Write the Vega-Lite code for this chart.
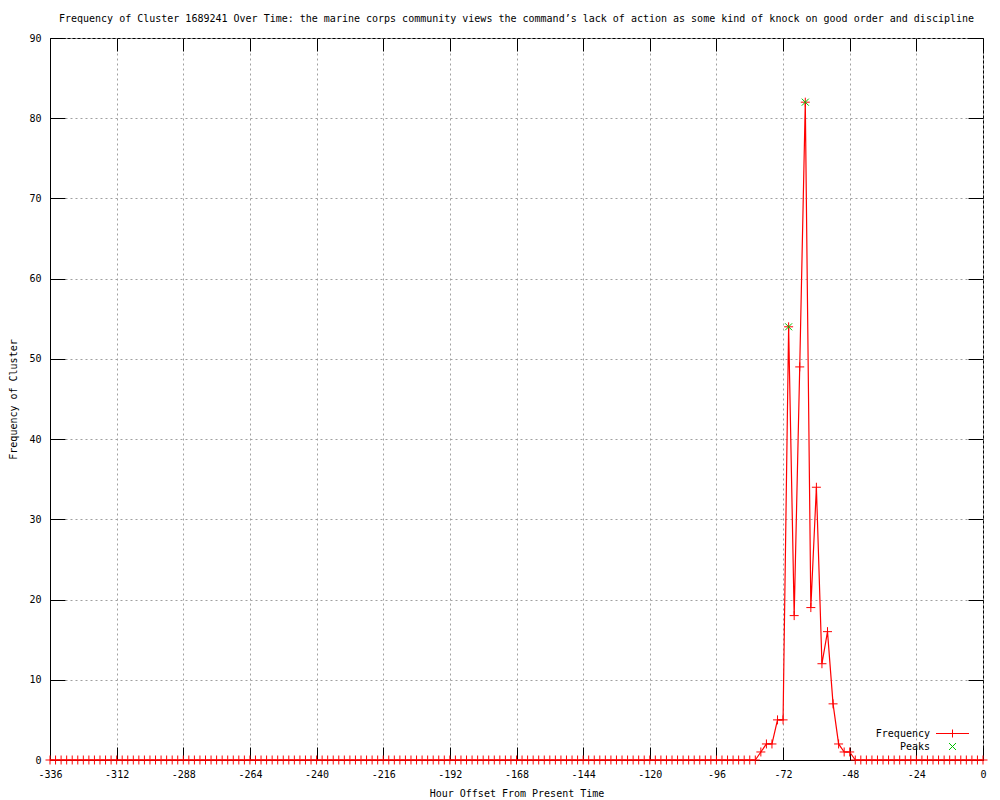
{
  "$schema": "https://vega.github.io/schema/vega-lite/v6.json",
  "width": 933,
  "height": 722,
  "autosize": {"type": "none"},
  "padding": {"left": 50, "top": 38, "right": 17, "bottom": 40},
  "background": "white",
  "title": {
    "text": "Frequency of Cluster 1689241 Over Time: the marine corps community views the command’s lack of action as some kind of knock on good order and discipline",
    "font": "DejaVu Sans Mono",
    "fontSize": 10,
    "fontWeight": "normal",
    "color": "black",
    "anchor": "middle",
    "offset": 9
  },
  "config": {
    "view": {"stroke": "black", "strokeWidth": 1},
    "font": "DejaVu Sans Mono",
    "axis": {
      "labelFont": "DejaVu Sans Mono",
      "labelFontSize": 10,
      "labelColor": "black",
      "titleFont": "DejaVu Sans Mono",
      "titleFontSize": 10,
      "titleFontWeight": "normal",
      "titleColor": "black",
      "domainColor": "black",
      "tickColor": "black",
      "gridColor": "#a0a0a0",
      "gridDash": [2, 3],
      "gridWidth": 1,
      "gridOpacity": 1
    }
  },
  "datasets": {
    "freq": [
      {"hour": -336, "freq": 0, "series": "Frequency"},
      {"hour": -334, "freq": 0, "series": "Frequency"},
      {"hour": -332, "freq": 0, "series": "Frequency"},
      {"hour": -330, "freq": 0, "series": "Frequency"},
      {"hour": -328, "freq": 0, "series": "Frequency"},
      {"hour": -326, "freq": 0, "series": "Frequency"},
      {"hour": -324, "freq": 0, "series": "Frequency"},
      {"hour": -322, "freq": 0, "series": "Frequency"},
      {"hour": -320, "freq": 0, "series": "Frequency"},
      {"hour": -318, "freq": 0, "series": "Frequency"},
      {"hour": -316, "freq": 0, "series": "Frequency"},
      {"hour": -314, "freq": 0, "series": "Frequency"},
      {"hour": -312, "freq": 0, "series": "Frequency"},
      {"hour": -310, "freq": 0, "series": "Frequency"},
      {"hour": -308, "freq": 0, "series": "Frequency"},
      {"hour": -306, "freq": 0, "series": "Frequency"},
      {"hour": -304, "freq": 0, "series": "Frequency"},
      {"hour": -302, "freq": 0, "series": "Frequency"},
      {"hour": -300, "freq": 0, "series": "Frequency"},
      {"hour": -298, "freq": 0, "series": "Frequency"},
      {"hour": -296, "freq": 0, "series": "Frequency"},
      {"hour": -294, "freq": 0, "series": "Frequency"},
      {"hour": -292, "freq": 0, "series": "Frequency"},
      {"hour": -290, "freq": 0, "series": "Frequency"},
      {"hour": -288, "freq": 0, "series": "Frequency"},
      {"hour": -286, "freq": 0, "series": "Frequency"},
      {"hour": -284, "freq": 0, "series": "Frequency"},
      {"hour": -282, "freq": 0, "series": "Frequency"},
      {"hour": -280, "freq": 0, "series": "Frequency"},
      {"hour": -278, "freq": 0, "series": "Frequency"},
      {"hour": -276, "freq": 0, "series": "Frequency"},
      {"hour": -274, "freq": 0, "series": "Frequency"},
      {"hour": -272, "freq": 0, "series": "Frequency"},
      {"hour": -270, "freq": 0, "series": "Frequency"},
      {"hour": -268, "freq": 0, "series": "Frequency"},
      {"hour": -266, "freq": 0, "series": "Frequency"},
      {"hour": -264, "freq": 0, "series": "Frequency"},
      {"hour": -262, "freq": 0, "series": "Frequency"},
      {"hour": -260, "freq": 0, "series": "Frequency"},
      {"hour": -258, "freq": 0, "series": "Frequency"},
      {"hour": -256, "freq": 0, "series": "Frequency"},
      {"hour": -254, "freq": 0, "series": "Frequency"},
      {"hour": -252, "freq": 0, "series": "Frequency"},
      {"hour": -250, "freq": 0, "series": "Frequency"},
      {"hour": -248, "freq": 0, "series": "Frequency"},
      {"hour": -246, "freq": 0, "series": "Frequency"},
      {"hour": -244, "freq": 0, "series": "Frequency"},
      {"hour": -242, "freq": 0, "series": "Frequency"},
      {"hour": -240, "freq": 0, "series": "Frequency"},
      {"hour": -238, "freq": 0, "series": "Frequency"},
      {"hour": -236, "freq": 0, "series": "Frequency"},
      {"hour": -234, "freq": 0, "series": "Frequency"},
      {"hour": -232, "freq": 0, "series": "Frequency"},
      {"hour": -230, "freq": 0, "series": "Frequency"},
      {"hour": -228, "freq": 0, "series": "Frequency"},
      {"hour": -226, "freq": 0, "series": "Frequency"},
      {"hour": -224, "freq": 0, "series": "Frequency"},
      {"hour": -222, "freq": 0, "series": "Frequency"},
      {"hour": -220, "freq": 0, "series": "Frequency"},
      {"hour": -218, "freq": 0, "series": "Frequency"},
      {"hour": -216, "freq": 0, "series": "Frequency"},
      {"hour": -214, "freq": 0, "series": "Frequency"},
      {"hour": -212, "freq": 0, "series": "Frequency"},
      {"hour": -210, "freq": 0, "series": "Frequency"},
      {"hour": -208, "freq": 0, "series": "Frequency"},
      {"hour": -206, "freq": 0, "series": "Frequency"},
      {"hour": -204, "freq": 0, "series": "Frequency"},
      {"hour": -202, "freq": 0, "series": "Frequency"},
      {"hour": -200, "freq": 0, "series": "Frequency"},
      {"hour": -198, "freq": 0, "series": "Frequency"},
      {"hour": -196, "freq": 0, "series": "Frequency"},
      {"hour": -194, "freq": 0, "series": "Frequency"},
      {"hour": -192, "freq": 0, "series": "Frequency"},
      {"hour": -190, "freq": 0, "series": "Frequency"},
      {"hour": -188, "freq": 0, "series": "Frequency"},
      {"hour": -186, "freq": 0, "series": "Frequency"},
      {"hour": -184, "freq": 0, "series": "Frequency"},
      {"hour": -182, "freq": 0, "series": "Frequency"},
      {"hour": -180, "freq": 0, "series": "Frequency"},
      {"hour": -178, "freq": 0, "series": "Frequency"},
      {"hour": -176, "freq": 0, "series": "Frequency"},
      {"hour": -174, "freq": 0, "series": "Frequency"},
      {"hour": -172, "freq": 0, "series": "Frequency"},
      {"hour": -170, "freq": 0, "series": "Frequency"},
      {"hour": -168, "freq": 0, "series": "Frequency"},
      {"hour": -166, "freq": 0, "series": "Frequency"},
      {"hour": -164, "freq": 0, "series": "Frequency"},
      {"hour": -162, "freq": 0, "series": "Frequency"},
      {"hour": -160, "freq": 0, "series": "Frequency"},
      {"hour": -158, "freq": 0, "series": "Frequency"},
      {"hour": -156, "freq": 0, "series": "Frequency"},
      {"hour": -154, "freq": 0, "series": "Frequency"},
      {"hour": -152, "freq": 0, "series": "Frequency"},
      {"hour": -150, "freq": 0, "series": "Frequency"},
      {"hour": -148, "freq": 0, "series": "Frequency"},
      {"hour": -146, "freq": 0, "series": "Frequency"},
      {"hour": -144, "freq": 0, "series": "Frequency"},
      {"hour": -142, "freq": 0, "series": "Frequency"},
      {"hour": -140, "freq": 0, "series": "Frequency"},
      {"hour": -138, "freq": 0, "series": "Frequency"},
      {"hour": -136, "freq": 0, "series": "Frequency"},
      {"hour": -134, "freq": 0, "series": "Frequency"},
      {"hour": -132, "freq": 0, "series": "Frequency"},
      {"hour": -130, "freq": 0, "series": "Frequency"},
      {"hour": -128, "freq": 0, "series": "Frequency"},
      {"hour": -126, "freq": 0, "series": "Frequency"},
      {"hour": -124, "freq": 0, "series": "Frequency"},
      {"hour": -122, "freq": 0, "series": "Frequency"},
      {"hour": -120, "freq": 0, "series": "Frequency"},
      {"hour": -118, "freq": 0, "series": "Frequency"},
      {"hour": -116, "freq": 0, "series": "Frequency"},
      {"hour": -114, "freq": 0, "series": "Frequency"},
      {"hour": -112, "freq": 0, "series": "Frequency"},
      {"hour": -110, "freq": 0, "series": "Frequency"},
      {"hour": -108, "freq": 0, "series": "Frequency"},
      {"hour": -106, "freq": 0, "series": "Frequency"},
      {"hour": -104, "freq": 0, "series": "Frequency"},
      {"hour": -102, "freq": 0, "series": "Frequency"},
      {"hour": -100, "freq": 0, "series": "Frequency"},
      {"hour": -98, "freq": 0, "series": "Frequency"},
      {"hour": -96, "freq": 0, "series": "Frequency"},
      {"hour": -94, "freq": 0, "series": "Frequency"},
      {"hour": -92, "freq": 0, "series": "Frequency"},
      {"hour": -90, "freq": 0, "series": "Frequency"},
      {"hour": -88, "freq": 0, "series": "Frequency"},
      {"hour": -86, "freq": 0, "series": "Frequency"},
      {"hour": -84, "freq": 0, "series": "Frequency"},
      {"hour": -82, "freq": 0, "series": "Frequency"},
      {"hour": -80, "freq": 1, "series": "Frequency"},
      {"hour": -78, "freq": 2, "series": "Frequency"},
      {"hour": -76, "freq": 2, "series": "Frequency"},
      {"hour": -74, "freq": 5, "series": "Frequency"},
      {"hour": -72, "freq": 5, "series": "Frequency"},
      {"hour": -70, "freq": 54, "series": "Frequency"},
      {"hour": -68, "freq": 18, "series": "Frequency"},
      {"hour": -66, "freq": 49, "series": "Frequency"},
      {"hour": -64, "freq": 82, "series": "Frequency"},
      {"hour": -62, "freq": 19, "series": "Frequency"},
      {"hour": -60, "freq": 34, "series": "Frequency"},
      {"hour": -58, "freq": 12, "series": "Frequency"},
      {"hour": -56, "freq": 16, "series": "Frequency"},
      {"hour": -54, "freq": 7, "series": "Frequency"},
      {"hour": -52, "freq": 2, "series": "Frequency"},
      {"hour": -50, "freq": 1, "series": "Frequency"},
      {"hour": -48, "freq": 1, "series": "Frequency"},
      {"hour": -46, "freq": 0, "series": "Frequency"},
      {"hour": -44, "freq": 0, "series": "Frequency"},
      {"hour": -42, "freq": 0, "series": "Frequency"},
      {"hour": -40, "freq": 0, "series": "Frequency"},
      {"hour": -38, "freq": 0, "series": "Frequency"},
      {"hour": -36, "freq": 0, "series": "Frequency"},
      {"hour": -34, "freq": 0, "series": "Frequency"},
      {"hour": -32, "freq": 0, "series": "Frequency"},
      {"hour": -30, "freq": 0, "series": "Frequency"},
      {"hour": -28, "freq": 0, "series": "Frequency"},
      {"hour": -26, "freq": 0, "series": "Frequency"},
      {"hour": -24, "freq": 0, "series": "Frequency"},
      {"hour": -22, "freq": 0, "series": "Frequency"},
      {"hour": -20, "freq": 0, "series": "Frequency"},
      {"hour": -18, "freq": 0, "series": "Frequency"},
      {"hour": -16, "freq": 0, "series": "Frequency"},
      {"hour": -14, "freq": 0, "series": "Frequency"},
      {"hour": -12, "freq": 0, "series": "Frequency"},
      {"hour": -10, "freq": 0, "series": "Frequency"},
      {"hour": -8, "freq": 0, "series": "Frequency"},
      {"hour": -6, "freq": 0, "series": "Frequency"},
      {"hour": -4, "freq": 0, "series": "Frequency"},
      {"hour": -2, "freq": 0, "series": "Frequency"},
      {"hour": 0, "freq": 0, "series": "Frequency"}
    ],
    "peaks": [
      {"hour": -70, "freq": 54, "series": "Peaks"},
      {"hour": -64, "freq": 82, "series": "Peaks"}
    ]
  },
  "layer": [
    {
      "data": {"name": "freq"},
      "mark": {"type": "line", "strokeWidth": 1.2, "interpolate": "linear"},
      "encoding": {
        "x": {
          "field": "hour", "type": "quantitative",
          "scale": {"domain": [-336, 0], "nice": false, "zero": false},
          "axis": {
            "orient": "bottom",
            "title": "Hour Offset From Present Time",
            "values": [-336, -312, -288, -264, -240, -216, -192, -168, -144, -120, -96, -72, -48, -24, 0],
            "labelExpr": "'' + datum.value",
            "grid": true,
            "tickSize": -13,
            "labelPadding": 22,
            "titlePadding": 9,
            "labelFlush": false,
            "labelOverlap": false
          }
        },
        "y": {
          "field": "freq", "type": "quantitative",
          "scale": {"domain": [0, 90], "nice": false},
          "axis": {
            "orient": "left",
            "title": "Frequency of Cluster",
            "values": [0, 10, 20, 30, 40, 50, 60, 70, 80, 90],
            "grid": true,
            "tickSize": -15,
            "labelPadding": 24,
            "titlePadding": 10,
            "labelFlush": false,
            "labelOverlap": false
          }
        },
        "color": {
          "field": "series", "type": "nominal",
          "scale": {"domain": ["Frequency", "Peaks"], "range": ["#ff0000", "#00c000"]},
          "legend": {
            "orient": "none",
            "legendX": 897,
            "legendY": 690,
            "title": null,
            "labelFont": "DejaVu Sans Mono",
            "labelFontSize": 10,
            "labelColor": "black",
            "labelAlign": "right",
            "labelOffset": -28,
            "symbolSize": 100,
            "symbolStrokeWidth": 1,
            "rowPadding": 1,
            "padding": 0,
            "encode": {
              "symbols": {
                "update": {
                  "shape": {"signal": "datum.value === 'Frequency' ? 'M-3.3,0L3.3,0M0,-0.8L0,0.8' : 'M-0.7,-0.7L0.7,0.7M-0.7,0.7L0.7,-0.7'"},
                  "fill": {"value": "transparent"},
                  "strokeWidth": {"value": 1}
                }
              }
            }
          }
        }
      }
    },
    {
      "data": {"name": "freq"},
      "mark": {"type": "point", "shape": "M-1,0L1,0M0,-1L0,1", "filled": false, "size": 81, "strokeWidth": 1, "opacity": 1},
      "encoding": {
        "x": {
          "field": "hour", "type": "quantitative",
          "axis": {"orient": "top", "title": null, "labels": false, "grid": false, "domain": false,
                   "values": [-336, -312, -288, -264, -240, -216, -192, -168, -144, -120, -96, -72, -48, -24, 0],
                   "tickSize": -13}
        },
        "y": {
          "field": "freq", "type": "quantitative",
          "axis": {"orient": "right", "title": null, "labels": false, "grid": false, "domain": false,
                   "values": [0, 10, 20, 30, 40, 50, 60, 70, 80, 90],
                   "tickSize": -15}
        },
        "color": {"field": "series", "type": "nominal"}
      }
    },
    {
      "data": {"name": "peaks"},
      "mark": {"type": "point", "shape": "M-1,-1L1,1M-1,1L1,-1", "filled": false, "size": 49, "strokeWidth": 1, "opacity": 1},
      "encoding": {
        "x": {"field": "hour", "type": "quantitative", "axis": null},
        "y": {"field": "freq", "type": "quantitative", "axis": null},
        "color": {"field": "series", "type": "nominal"}
      }
    }
  ]
}
